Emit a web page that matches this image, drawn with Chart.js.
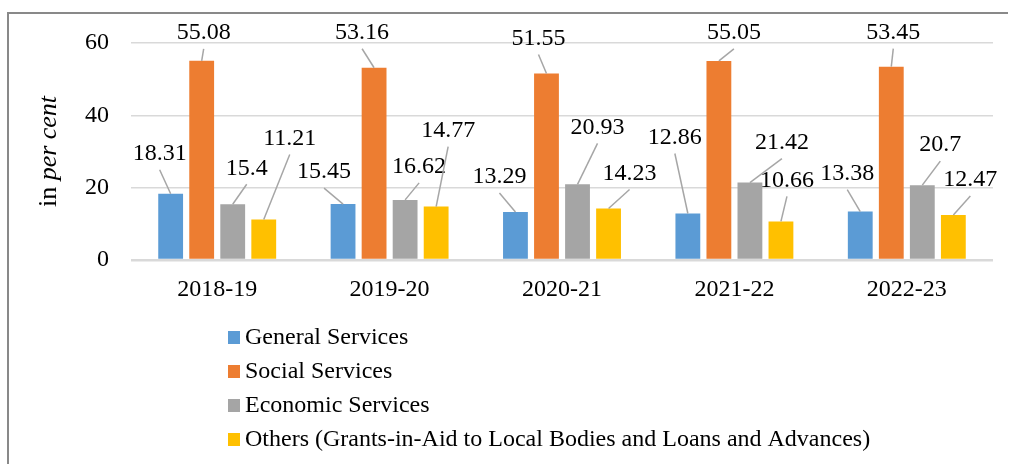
<!DOCTYPE html>
<html>
<head>
<meta charset="utf-8">
<script src="https://cdn.jsdelivr.net/npm/chart.js@4/dist/chart.umd.min.js"></script>
<style>
  html, body { margin: 0; padding: 0; background: #fff; }
  canvas { display: block; }
</style>
</head>
<body>
<canvas id="expenditureChart" width="1009" height="464"></canvas>
<script>
const categories = ["2018-19", "2019-20", "2020-21", "2021-22", "2022-23"]
const seriesNames = [
  "General Services",
  "Social Services",
  "Economic Services",
  "Others (Grants-in-Aid to Local Bodies and Loans and Advances)",
]
const generalServices = [18.31, 15.45, 13.29, 12.86, 13.38]
const socialServices = [55.08, 53.16, 51.55, 55.05, 53.45]
const economicServices = [15.4, 16.62, 20.93, 21.42, 20.7]
const others = [11.21, 14.77, 14.23, 10.66, 12.47]
const yMax = 60
const yStep = 20

const COLORS = ["#5b9bd5", "#ed7d31", "#a5a5a5", "#ffc000"]
const FONT = '"Liberation Serif", "Times New Roman", serif'
const FONT_SIZE = 24

// where each value label sits, relative to the top centre of its bar
const labelOffsets = [
  [[-11, -40], [-19, -32], [-16, -35], [-13, -76], [-13, -38]],
  [[2, -28], [-12, -35], [-8, -35], [15, -28], [2, -34]],
  [[14, -36], [14, -33], [20, -57], [32, -40], [18, -40]],
  [[26, -81], [12, -76], [21, -35], [6, -41], [17, -35]],
]

const frame = {
  id: "frame",
  beforeDraw(chart) {
    const ctx = chart.ctx
    ctx.save()
    ctx.strokeStyle = "#898989"
    ctx.lineWidth = 2
    ctx.beginPath()
    ctx.moveTo(8, 464)
    ctx.lineTo(8, 13)
    ctx.lineTo(1008, 13)
    ctx.stroke()
    ctx.restore()
  },
}

const valueLabels = {
  id: "valueLabels",
  afterDatasetsDraw(chart) {
    const ctx = chart.ctx
    ctx.save()
    ctx.font = FONT_SIZE + "px " + FONT
    ctx.textAlign = "center"
    ctx.textBaseline = "middle"
    chart.data.datasets.forEach(function (dataset, i) {
      chart.getDatasetMeta(i).data.forEach(function (bar, j) {
        const tx = bar.x + labelOffsets[i][j][0]
        const ty = bar.y + labelOffsets[i][j][1]
        ctx.strokeStyle = "#a6a6a6"
        ctx.lineWidth = 1.5
        ctx.beginPath()
        ctx.moveTo(tx, ty + 16)
        ctx.lineTo(bar.x, bar.y)
        ctx.stroke()
        ctx.fillStyle = "#000"
        ctx.fillText(String(dataset.data[j]), tx, ty)
      })
    })
    ctx.restore()
  },
}

const axisTitle = {
  id: "axisTitle",
  afterDraw(chart) {
    const ctx = chart.ctx
    const area = chart.chartArea
    const plain = "in "
    const italic = "per cent"
    const size = 26
    ctx.save()
    ctx.translate(49, (area.top + area.bottom) / 2)
    ctx.rotate(-Math.PI / 2)
    ctx.textBaseline = "middle"
    ctx.fillStyle = "#000"
    ctx.font = size + "px " + FONT
    const w1 = ctx.measureText(plain).width
    ctx.font = "italic " + size + "px " + FONT
    const w2 = ctx.measureText(italic).width
    let x = -(w1 + w2) / 2
    ctx.font = size + "px " + FONT
    ctx.fillText(plain, x, 0)
    ctx.font = "italic " + size + "px " + FONT
    ctx.fillText(italic, x + w1, 0)
    ctx.restore()
  },
}

const listLegend = {
  id: "listLegend",
  afterDraw(chart) {
    const ctx = chart.ctx
    ctx.save()
    ctx.font = FONT_SIZE + "px " + FONT
    ctx.textBaseline = "middle"
    chart.data.datasets.forEach(function (dataset, i) {
      const y = 337 + i * 34
      ctx.fillStyle = dataset.backgroundColor
      ctx.fillRect(228, y - 6, 12, 13)
      ctx.fillStyle = "#000"
      ctx.fillText(dataset.label, 245, y + 1)
    })
    ctx.restore()
  },
}

const seriesValues = [generalServices, socialServices, economicServices, others]

new Chart(document.getElementById("expenditureChart"), {
  type: "bar",
  data: {
    labels: categories,
    datasets: seriesValues.map(function (values, i) {
      return {
        label: seriesNames[i],
        data: values,
        backgroundColor: COLORS[i],
        categoryPercentage: 0.72,
        barPercentage: 0.8,
      }
    }),
  },
  options: {
    responsive: false,
    animation: false,
    layout: { padding: { top: 43, right: 16, left: 0, bottom: 0 } },
    plugins: {
      legend: { display: false },
      tooltip: { enabled: false },
    },
    scales: {
      x: {
        grid: { display: false },
        border: { display: false },
        ticks: {
          color: "#000",
          padding: 7,
          font: { family: FONT, size: FONT_SIZE },
        },
        afterFit(scale) {
          scale.height = 204
        },
      },
      y: {
        min: 0,
        max: yMax,
        border: { display: false },
        grid: {
          color: "#d9d9d9",
          lineWidth: function (c) {
            return c.tick && c.tick.value === 0 ? 2.5 : 1.5
          },
          drawTicks: false,
        },
        ticks: {
          stepSize: yStep,
          color: "#000",
          padding: 22,
          font: { family: FONT, size: FONT_SIZE },
        },
        afterFit(scale) {
          scale.width = 131
        },
      },
    },
  },
  plugins: [frame, valueLabels, axisTitle, listLegend],
})
</script>
</body>
</html>
